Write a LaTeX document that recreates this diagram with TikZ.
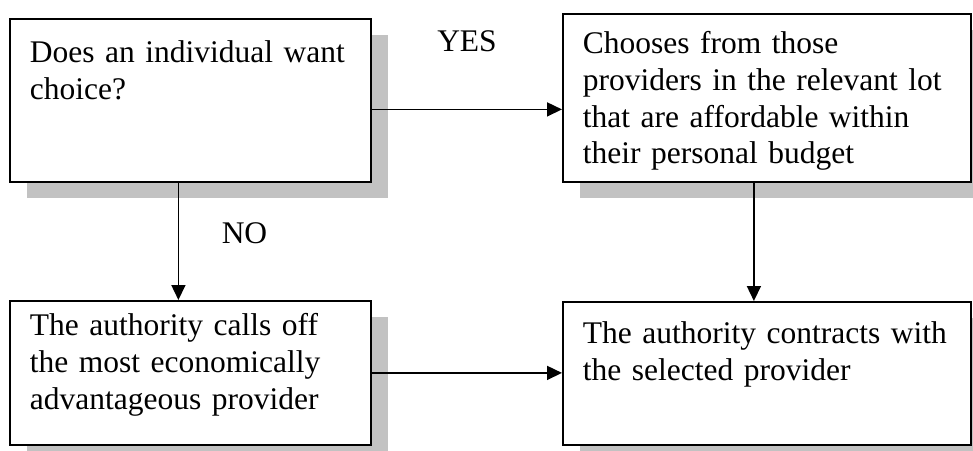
\documentclass[tikz,border=0pt]{standalone}
\usepackage{fontspec}
\setmainfont{Liberation Serif}
\usetikzlibrary{arrows.meta, shadows, positioning}

\tikzset{
  stepbox/.style={draw=black, line width=1.8pt, fill=white, rectangle,
    align=left, inner xsep=20pt, inner ysep=0pt, anchor=north west,
    font=\fontsize{31.5}{36.6}\selectfont,
    drop shadow={shadow xshift=17pt, shadow yshift=-16pt, fill=black!24, opacity=1}},
  flow/.style={-{Triangle[length=15pt, width=14pt]}, line width=1.6pt, black},
  lbl/.style={font=\fontsize{31.5}{36.6}\selectfont, anchor=base, inner sep=0pt}
}

\begin{document}
\begin{tikzpicture}[x=1pt, y=1pt]
  \useasboundingbox (0,0) rectangle (973,-450);

  \node[stepbox, text width=321pt, text height=44pt, text depth=119pt] (ask) at (9,-18)
    {Does an individual want\\choice?};
  \node[stepbox, text width=368pt, text height=40pt, text depth=128pt] (choose) at (562,-13)
    {Chooses from those\\providers in the relevant lot\\that are affordable within\\their personal budget};
  \node[stepbox, text width=321pt, text height=35pt, text depth=109pt] (calloff) at (9,-300)
    {The authority calls off\\the most economically\\advantageous provider};
  \node[stepbox, text width=368pt, text height=42pt, text depth=101pt] (contract) at (562,-301)
    {The authority contracts with\\the selected provider};

  \node[lbl] (yes) at (467,-51) {YES};
  \node[lbl] (no) at (244.5,-243) {NO};

  \draw[flow] ([yshift=-9pt]ask.east) -- ([yshift=-9pt]ask.east -| choose.west);
  \draw[flow] ([xshift=-12pt]ask.south) -- ([xshift=-12pt]ask.south |- calloff.north);
  \draw[flow] ([xshift=-13pt]choose.south) -- ([xshift=-13pt]choose.south |- contract.north);
  \draw[flow] (calloff.east) -- (calloff.east -| contract.west);
\end{tikzpicture}
\end{document}
